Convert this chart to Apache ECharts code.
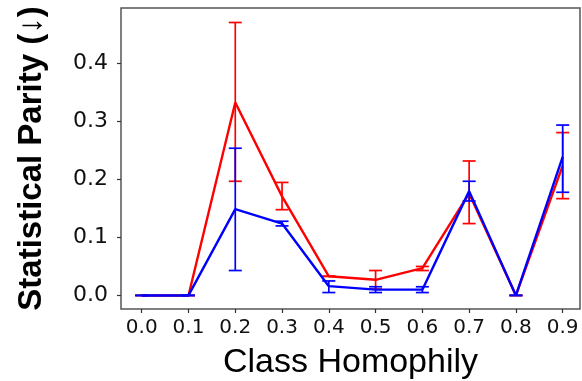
<!DOCTYPE html>
<html>
<head>
<meta charset="utf-8">
<script src="https://cdn.jsdelivr.net/npm/echarts@6/dist/echarts.min.js"></script>
<style>html,body{margin:0;padding:0;background:#fff;}#c{width:582px;height:381px;}</style>
</head>
<body>
<div id="c"></div>
<script>
const categories = [0.0, 0.1, 0.2, 0.3, 0.4, 0.5, 0.6, 0.7, 0.8, 0.9];
const xTicks = [0.0, 0.1, 0.2, 0.3, 0.4, 0.5, 0.6, 0.7, 0.8, 0.9];
const yTicks = [0.0, 0.1, 0.2, 0.3, 0.4];

const redMean  = [0, 0, 0.333, 0.171, 0.033, 0.027, 0.047, 0.176, 0, 0.224];
const redLow   = [0, 0, 0.197, 0.148, 0.033, 0.011, 0.043, 0.124, 0, 0.167];
const redHigh  = [0, 0, 0.471, 0.195, 0.033, 0.043, 0.050, 0.232, 0, 0.281];

const blueMean = [0, 0, 0.149, 0.124, 0.016, 0.010, 0.010, 0.180, 0, 0.239];
const blueLow  = [0, 0, 0.043, 0.120, 0.005, 0.005, 0.005, 0.163, 0, 0.178];
const blueHigh = [0, 0, 0.254, 0.128, 0.025, 0.015, 0.015, 0.197, 0, 0.294];

function lineData(mean) { return categories.map((x, i) => [x, mean[i]]); }
function errData(low, high) { return categories.map((x, i) => [x, low[i], high[i]]); }

function errRender(color) {
  return function (params, api) {
    const x = api.value(0);
    const lo = api.coord([x, api.value(1)]);
    const hi = api.coord([x, api.value(2)]);
    const hw = 6.5;
    const style = { stroke: color, lineWidth: 1.7 };
    return {
      type: 'group',
      children: [
        { type: 'line', shape: { x1: lo[0], y1: lo[1], x2: hi[0], y2: hi[1] }, style },
        { type: 'line', shape: { x1: lo[0] - hw, y1: lo[1], x2: lo[0] + hw, y2: lo[1] }, style },
        { type: 'line', shape: { x1: hi[0] - hw, y1: hi[1], x2: hi[0] + hw, y2: hi[1] }, style }
      ]
    };
  };
}

const chart = echarts.init(document.getElementById('c'), null, { renderer: 'canvas' });
chart.setOption({
  animation: false,
  backgroundColor: '#fff',
  grid: { left: 121, top: 8, right: 2, bottom: 72, outerBoundsMode: 'none', containLabel: false, show: true, borderColor: '#555', borderWidth: 1.5, backgroundColor: 'transparent' },
  xAxis: {
    type: 'value', min: -0.0443, max: 0.937,
    name: 'Class Homophily', nameLocation: 'middle', nameGap: 37,
    nameTextStyle: { fontFamily: 'Liberation Sans', fontSize: 34, color: '#000' },
    axisLine: { show: false, onZero: false },
    splitLine: { show: false },
    axisTick: { show: true, inside: false, length: 4, lineStyle: { color: '#333', width: 1.2 }, customValues: xTicks },
    axisLabel: { customValues: xTicks, margin: 9, fontFamily: 'DejaVu Sans', fontSize: 20, color: '#111', formatter: v => v.toFixed(1) }
  },
  yAxis: {
    type: 'value', min: -0.0234, max: 0.496,
    name: 'Statistical Parity (↓)', nameLocation: 'middle', nameGap: 73, nameRotate: 90,
    nameTextStyle: { fontFamily: 'Liberation Sans', fontWeight: 'bold', fontSize: 33, color: '#000' },
    axisLine: { show: false, onZero: false },
    splitLine: { show: false },
    axisTick: { show: true, inside: false, length: 4, lineStyle: { color: '#333', width: 1.2 }, customValues: yTicks },
    axisLabel: { customValues: yTicks, margin: 13, fontFamily: 'DejaVu Sans', fontSize: 22, color: '#111', formatter: v => v.toFixed(1) }
  },
  series: [
    { name: 'red', type: 'line', data: lineData(redMean), symbol: 'none', lineStyle: { color: '#ff0000', width: 2.4 }, z: 2 },
    { name: 'redErr', type: 'custom', data: errData(redLow, redHigh), renderItem: errRender('#ff0000'), z: 3, clip: false },
    { name: 'blue', type: 'line', data: lineData(blueMean), symbol: 'none', lineStyle: { color: '#0000ff', width: 2.4 }, z: 4 },
    { name: 'blueErr', type: 'custom', data: errData(blueLow, blueHigh), renderItem: errRender('#0000ff'), z: 5, clip: false }
  ]
});
</script>
</body>
</html>
